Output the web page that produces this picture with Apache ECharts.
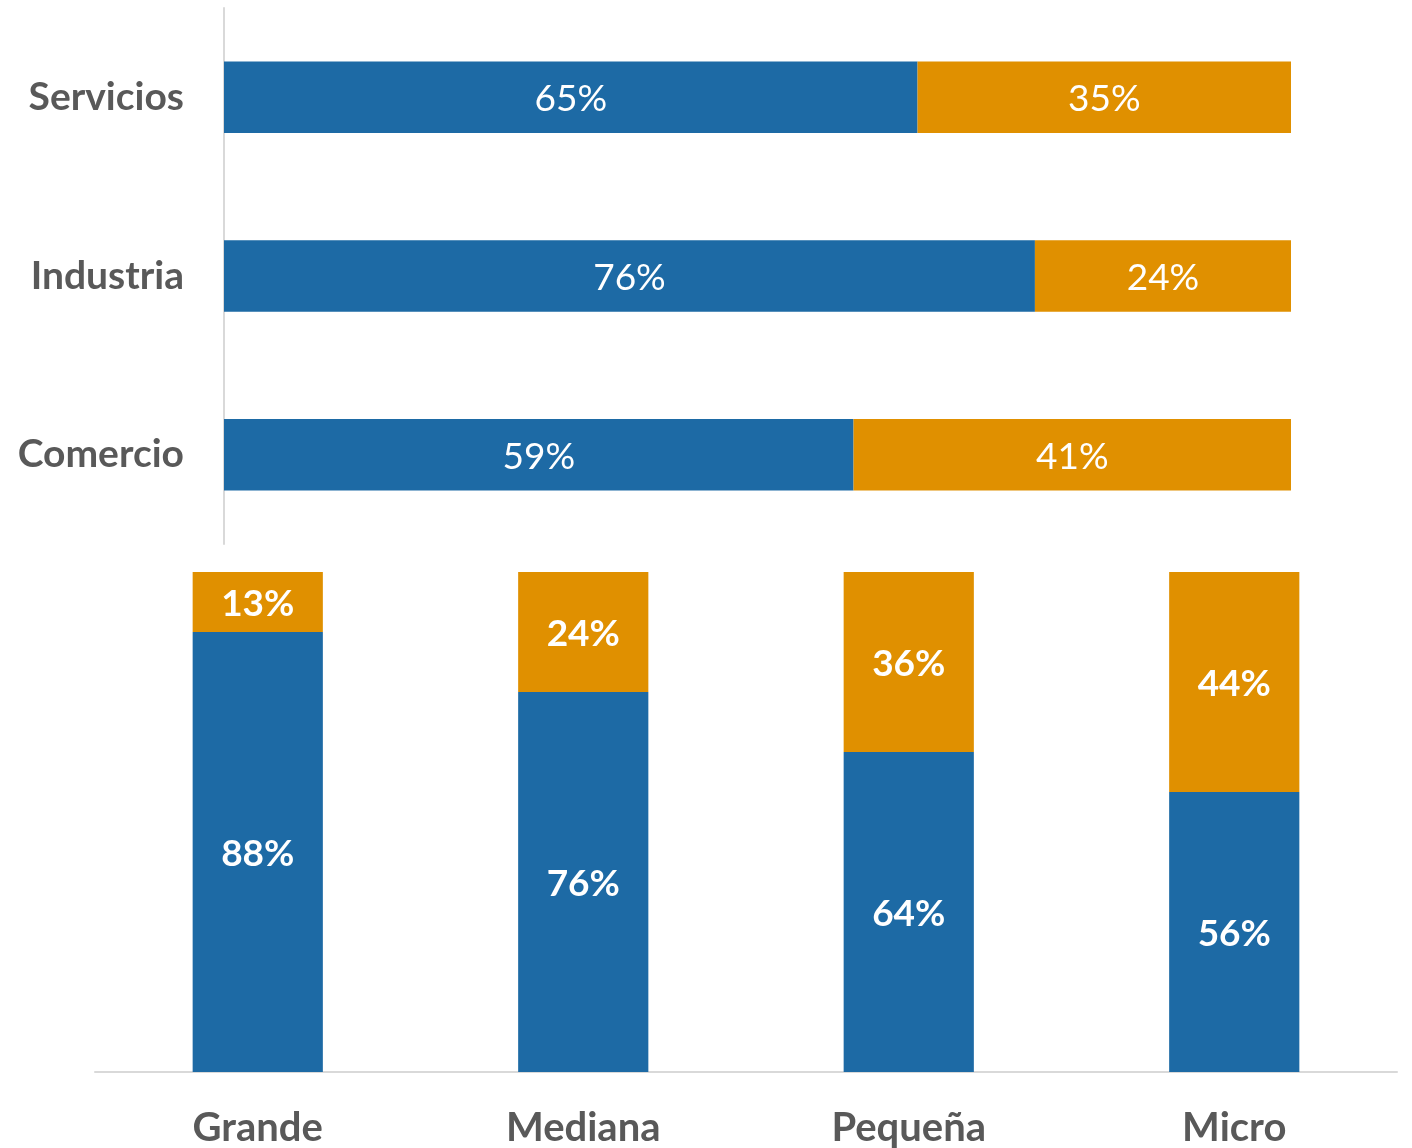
<!DOCTYPE html>
<html>
<head>
<meta charset="utf-8">
<script src="https://cdn.jsdelivr.net/npm/echarts@6/dist/echarts.min.js"></script>
<style>
  html, body { margin: 0; padding: 0; background: #fff; }
  #main { width: 1412px; height: 1148px; }
</style>
</head>
<body>
<div id="main"></div>
<script>
// sector (top, horizontal)
var sectores = ['Servicios', 'Industria', 'Comercio'];
var sectorAzul = [65, 76, 59];
var sectorNaranja = [35, 24, 41];

// company size (bottom, vertical)
var tamanos = ['Grande', 'Mediana', 'Pequeña', 'Micro'];
var tamanoAzul = [88, 76, 64, 56];
var tamanoNaranja = [13, 24, 36, 44];

var AZUL = '#1d6aa5';
var NARANJA = '#e09000';
var GRIS = '#595959';
var FONT = 'Lato';

var myChart = echarts.init(document.getElementById('main'));

function pct(p) { return p.value + '%'; }

var option = {
    animation: false,
    textStyle: { fontFamily: FONT },
    grid: [
        { left: 224, right: 121, top: 8, height: 536 },
        { left: 95, right: 15, top: 572, bottom: 75 }
    ],
    xAxis: [
        { gridIndex: 0, type: 'value', min: 0, max: 100, show: false },
        {
            gridIndex: 1, type: 'category', data: tamanos,
            axisLine: { lineStyle: { color: '#d9d9d9', width: 2 } },
            axisTick: { show: false },
            axisLabel: { color: GRIS, fontSize: 40, fontWeight: 'bold', fontFamily: FONT, margin: 36 }
        }
    ],
    yAxis: [
        {
            gridIndex: 0, type: 'category', data: sectores, inverse: true,
            axisLine: { lineStyle: { color: '#d9d9d9', width: 2 } },
            axisTick: { show: false },
            axisLabel: { color: GRIS, fontSize: 39, fontWeight: 'bold', fontFamily: FONT, margin: 40 }
        },
        { gridIndex: 1, type: 'value', min: 0, max: 100, show: false }
    ],
    series: [
        {
            type: 'bar', stack: 's', xAxisIndex: 0, yAxisIndex: 0,
            data: sectorAzul, barWidth: '40%',
            itemStyle: { color: AZUL },
            label: { show: true, position: 'inside', offset: [0, 2], color: '#fff', fontSize: 37, fontFamily: FONT, formatter: pct }
        },
        {
            type: 'bar', stack: 's', xAxisIndex: 0, yAxisIndex: 0,
            data: sectorNaranja, barWidth: '40%',
            itemStyle: { color: NARANJA },
            label: { show: true, position: 'inside', offset: [0, 2], color: '#fff', fontSize: 37, fontFamily: FONT, formatter: pct }
        },
        {
            type: 'bar', stack: 't', xAxisIndex: 1, yAxisIndex: 1,
            data: tamanoAzul, barWidth: '40%',
            itemStyle: { color: AZUL },
            label: { show: true, position: 'inside', offset: [0, 2], color: '#fff', fontSize: 37, fontWeight: 'bold', fontFamily: FONT, formatter: pct }
        },
        {
            type: 'bar', stack: 't', xAxisIndex: 1, yAxisIndex: 1,
            data: tamanoNaranja, barWidth: '40%',
            itemStyle: { color: NARANJA },
            label: { show: true, position: 'inside', offset: [0, 2], color: '#fff', fontSize: 37, fontWeight: 'bold', fontFamily: FONT, formatter: pct }
        }
    ]
};

myChart.setOption(option);
</script>
</body>
</html>
